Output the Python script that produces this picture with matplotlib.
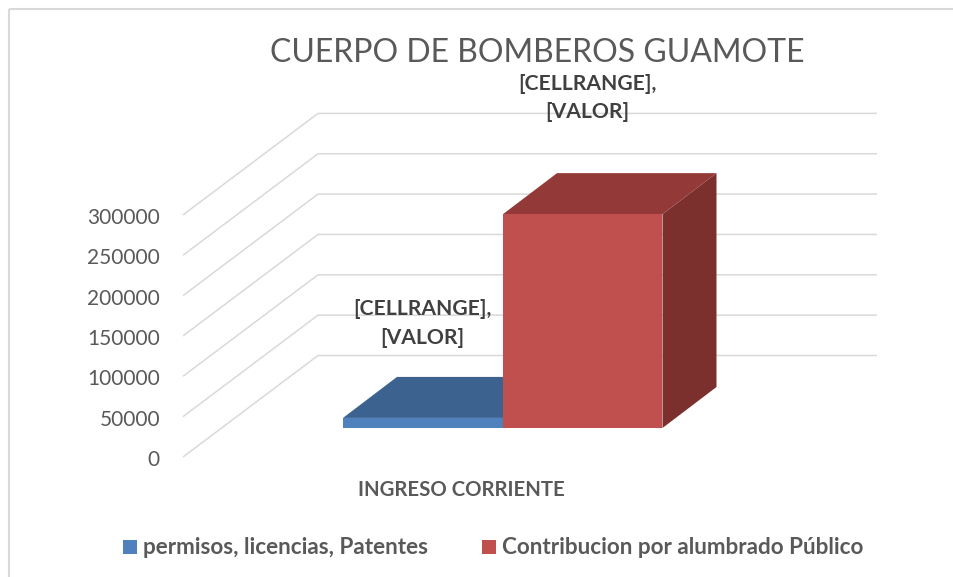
import matplotlib
matplotlib.use("Agg")
import matplotlib.pyplot as plt
from matplotlib.patches import Polygon, Rectangle

title = "CUERPO DE BOMBEROS GUAMOTE"
category = "INGRESO CORRIENTE"
series_names = ["permisos, licencias, Patentes", "Contribucion por alumbrado Público"]
series_values = [12500, 265000]
y_ticks = [0, 50000, 100000, 150000, 200000, 250000, 300000]
data_label = "[CELLRANGE],\n[VALOR]"

front_colors = ["#4f81bd", "#c0504d"]
top_colors = ["#3c6290", "#933a38"]
side_colors = ["#325377", "#7c302e"]
TEXT = "#595959"
GRID = "#d9d9d9"

W, H = 954, 577
# pixels per unit of value, front wall
SCALE = 40.35 / 50000
plt.rcParams['font.family'] = ['Lato', 'DejaVu Sans']


def val_y(value, base):
    return base - value * SCALE


fig = plt.figure(figsize=(W / 100, H / 100), dpi=100)
ax = fig.add_axes([0, 0, 1, 1])
ax.set_xlim(0, W)
ax.set_ylim(H, 0)
ax.axis("off")

# outer frame, runs off the right and bottom of the picture
ax.add_patch(Rectangle((9, 9), 960, 600, fill=False, ec=GRID, lw=1.5))

# gridlines: diagonal on side wall, then back wall
for v in y_ticks:
    y0 = val_y(v, 457)
    y1 = val_y(v, 355.5)
    ax.plot([183, 318, 877], [y0, y1, y1], color=GRID, lw=1.1, solid_capstyle="butt")

# tick labels
for v in y_ticks:
    ax.text(160, val_y(v, 457) + 3, str(v), ha="right", va="center",
            fontsize=15, color=TEXT)

# bars
base = 428
depth_x, depth_y = 54, -41
edges = [343, 503, 662.5]
for i, value in enumerate(series_values):
    x0, x1 = edges[i], edges[i + 1]
    top = val_y(value, base)
    ax.add_patch(Polygon([(x1, base), (x1 + depth_x, base + depth_y),
                          (x1 + depth_x, top + depth_y), (x1, top)],
                         fc=side_colors[i], ec="none", zorder=3 + i))
    ax.add_patch(Polygon([(x0, top), (x0 + depth_x, top + depth_y),
                          (x1 + depth_x, top + depth_y), (x1, top)],
                         fc=top_colors[i], ec="none", zorder=3 + i))
    ax.add_patch(Rectangle((x0, top), x1 - x0, base - top,
                           fc=front_colors[i], ec="none", zorder=3 + i))

# labels
ax.text(537, 53, title, ha="center", va="center", fontsize=23, color=TEXT, zorder=6)
ax.text(422, 323.5, data_label, ha="center", va="center", fontsize=15.2, fontweight="bold",
        color="#404040", linespacing=1.6, zorder=6)
ax.text(587, 98, data_label, ha="center", va="center", fontsize=15.2, fontweight="bold",
        color="#404040", linespacing=1.5, zorder=6)
ax.text(461, 490.5, category, ha="center", va="center", fontsize=14.7, fontweight="bold", color=TEXT)

# legend
ax.add_patch(Rectangle((123, 540), 14, 14, fc=front_colors[0], ec="none"))
ax.text(143, 547, series_names[0], ha="left", va="center", fontsize=16.2, fontweight="bold", color=TEXT)
ax.add_patch(Rectangle((482, 540), 14, 14, fc=front_colors[1], ec="none"))
ax.text(502, 547, series_names[1], ha="left", va="center", fontsize=16.2, fontweight="bold", color=TEXT)

fig.savefig("out.png", dpi=100, facecolor="white")
